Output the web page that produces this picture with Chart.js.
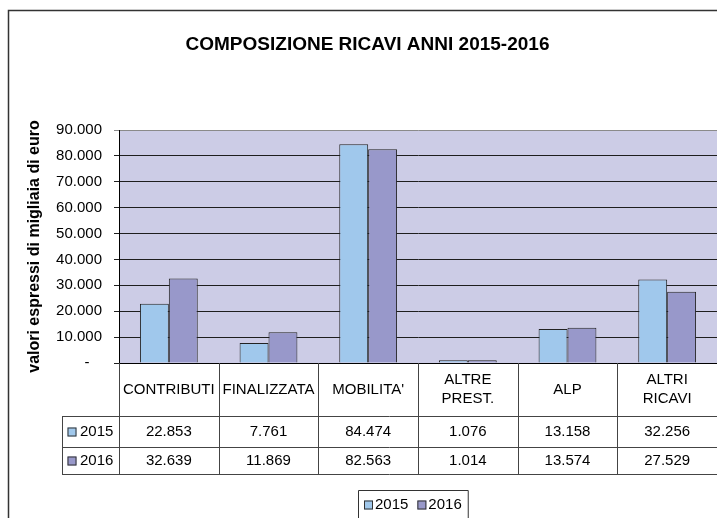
<!DOCTYPE html>
<html>
<head>
<meta charset="utf-8">
<title>Composizione ricavi 2015-2016</title>
<script src="https://cdn.jsdelivr.net/npm/chart.js@4/dist/chart.umd.min.js"></script>
<style>
  html, body { margin: 0; padding: 0; background: #fff; }
  canvas { display: block; }
</style>
</head>
<body>
<canvas id="myChart" width="717" height="518"></canvas>
<script>
/*global Chart*/

// categorie e valori (migliaia di euro)
var categories = [['CONTRIBUTI'], ['FINALIZZATA'], ["MOBILITA'"], ['ALTRE', 'PREST.'], ['ALP'], ['ALTRI', 'RICAVI']];
var years = ['2015', '2016'];
var values2015 = [22853, 7761, 84474, 1076, 13158, 32256];
var values2016 = [32639, 11869, 82563, 1014, 13574, 27529];
var yTicksMax = 90000;
var yTicksStep = 10000;

var FONT = "'Liberation Sans', Arial, sans-serif";
var colors = ['#A0C8EC', '#9898CA'];
var plotFill = '#CCCCE6';
var lineColor = '#444';

Chart.defaults.font.family = FONT;
Chart.defaults.color = '#000';

function fmt(v) {
    return String(v).replace(/\B(?=(\d{3})+(?!\d))/g, '.');
}

function swatch(ctx, x, y, color) {
    ctx.fillStyle = color;
    ctx.fillRect(x, y, 9, 9);
    ctx.strokeStyle = '#333';
    ctx.lineWidth = 1;
    ctx.strokeRect(x + 0.5, y + 0.5, 8, 8);
}

// sfondo del grafico, tabella dati sotto l'asse, legenda e cornice
var tablePlugin = {
    id: 'dataTable',
    beforeDraw: function(chart) {
        var a = chart.chartArea;
        var ctx = chart.ctx;
        ctx.save();
        ctx.fillStyle = plotFill;
        ctx.fillRect(a.left, a.top, a.right - a.left, a.bottom - a.top);
        ctx.restore();
    },
    afterDraw: function(chart) {
        var ctx = chart.ctx;
        var a = chart.chartArea;
        var xs = chart.scales.x;
        var step = xs.getPixelForValue(1) - xs.getPixelForValue(0);
        var headBottom = a.bottom + 53;
        var row1 = headBottom + 31;
        var row2 = row1 + 27;
        var keyLeft = 62;
        var i, j, cx;

        ctx.save();
        ctx.strokeStyle = lineColor;
        ctx.lineWidth = 1;
        ctx.beginPath();
        // verticali tra le categorie
        for (i = 0; i <= categories.length; i++) {
            cx = Math.round(xs.getPixelForValue(i) - step / 2) + 0.5;
            ctx.moveTo(cx, a.bottom);
            ctx.lineTo(cx, row2);
        }
        // righe orizzontali
        [headBottom, row1, row2].forEach(function(y) {
            ctx.moveTo(keyLeft, Math.round(y) + 0.5);
            ctx.lineTo(a.right, Math.round(y) + 0.5);
        });
        ctx.moveTo(keyLeft + 0.5, headBottom);
        ctx.lineTo(keyLeft + 0.5, row2);
        ctx.stroke();

        ctx.fillStyle = '#000';
        ctx.font = '15px ' + FONT;
        ctx.textAlign = 'center';
        ctx.textBaseline = 'middle';
        var lh = 19;
        categories.forEach(function(lines, k) {
            var px = xs.getPixelForValue(k);
            var mid = (a.bottom + headBottom) / 2;
            lines.forEach(function(t, n) {
                ctx.fillText(t, px, mid + (n - (lines.length - 1) / 2) * lh);
            });
        });

        var rows = [[headBottom, row1], [row1, row2]];
        chart.data.datasets.forEach(function(ds, d) {
            var mid = (rows[d][0] + rows[d][1]) / 2;
            ctx.textAlign = 'center';
            ctx.fillStyle = '#000';
            for (j = 0; j < ds.data.length; j++) {
                ctx.fillText(fmt(ds.data[j]), xs.getPixelForValue(j), mid);
            }
            swatch(ctx, keyLeft + 5.5, Math.round(mid) - 4.5, ds.backgroundColor);
            ctx.fillStyle = '#000';
            ctx.textAlign = 'left';
            ctx.fillText(ds.label, keyLeft + 18, mid);
        });

        // legenda in basso
        var legTop = 490;
        var legMid = 505;
        var widths = chart.data.datasets.map(function(ds) {
            return 9 + 2 + ctx.measureText(ds.label).width;
        });
        var total = widths[0] + widths[1] + 9 + 12;
        var legLeft = Math.round(412.5 - total / 2);
        ctx.strokeStyle = '#333';
        ctx.lineWidth = 1;
        ctx.beginPath();
        ctx.moveTo(legLeft + 0.5, chart.height);
        ctx.lineTo(legLeft + 0.5, legTop + 0.5);
        ctx.lineTo(legLeft + total + 0.5, legTop + 0.5);
        ctx.lineTo(legLeft + total + 0.5, chart.height);
        ctx.stroke();
        var lx = legLeft + 6;
        chart.data.datasets.forEach(function(ds, d) {
            swatch(ctx, lx, legMid - 4.5, ds.backgroundColor);
            ctx.fillStyle = '#000';
            ctx.textAlign = 'left';
            ctx.fillText(ds.label, lx + 11, legMid);
            lx += widths[d] + 9;
        });

        // cornice esterna
        ctx.strokeStyle = '#333';
        ctx.lineWidth = 1.5;
        ctx.beginPath();
        ctx.moveTo(8.5, chart.height);
        ctx.lineTo(8.5, 10.5);
        ctx.lineTo(chart.width, 10.5);
        ctx.stroke();
        ctx.restore();
    }
};

var data = {
    labels: categories,
    datasets: [
        {
            label: years[0],
            data: values2015,
            backgroundColor: colors[0],
            borderColor: '#222',
            borderWidth: 1
        },
        {
            label: years[1],
            data: values2016,
            backgroundColor: colors[1],
            borderColor: '#222',
            borderWidth: 1
        }
    ]
};

var options = {
    responsive: false,
    animation: false,
    layout: {
        padding: { left: 18, top: 10, right: 0, bottom: 0 }
    },
    datasets: {
        bar: { categoryPercentage: 0.58, barPercentage: 1.0 }
    },
    plugins: {
        legend: { display: false },
        tooltip: { enabled: false },
        title: {
            display: true,
            text: 'COMPOSIZIONE RICAVI ANNI 2015-2016',
            color: '#000',
            font: { size: 19, weight: 'bold' },
            padding: { top: 23.3, bottom: 73.9 }
        }
    },
    scales: {
        x: {
            ticks: { display: false },
            grid: { display: false },
            border: { display: true, color: '#000', width: 1 },
            afterFit: function(scale) {
                scale.height = 155;
            }
        },
        y: {
            min: 0,
            max: yTicksMax,
            ticks: {
                stepSize: yTicksStep,
                padding: 12,
                font: { size: 15 },
                color: '#000',
                callback: function(v) {
                    return v === 0 ? '-   ' : fmt(v);
                }
            },
            grid: {
                tickLength: 5,
                lineWidth: 1,
                color: function(c) {
                    return c.tick && c.tick.value === yTicksMax ? '#8a8a8a' : '#1e1e1e';
                }
            },
            border: { display: true, color: '#000', width: 1 },
            title: {
                display: true,
                text: 'valori espressi di migliaia di euro',
                color: '#000',
                font: { size: 16, weight: 'bold' },
                padding: { top: 7.4, bottom: 0 }
            },
            afterFit: function(scale) {
                scale.width = 101;
            }
        }
    }
};

var ctx = document.getElementById('myChart');
var chart = new Chart(ctx, {
    type: 'bar',
    data: data,
    options: options,
    plugins: [tablePlugin]
});
</script>
</body>
</html>
